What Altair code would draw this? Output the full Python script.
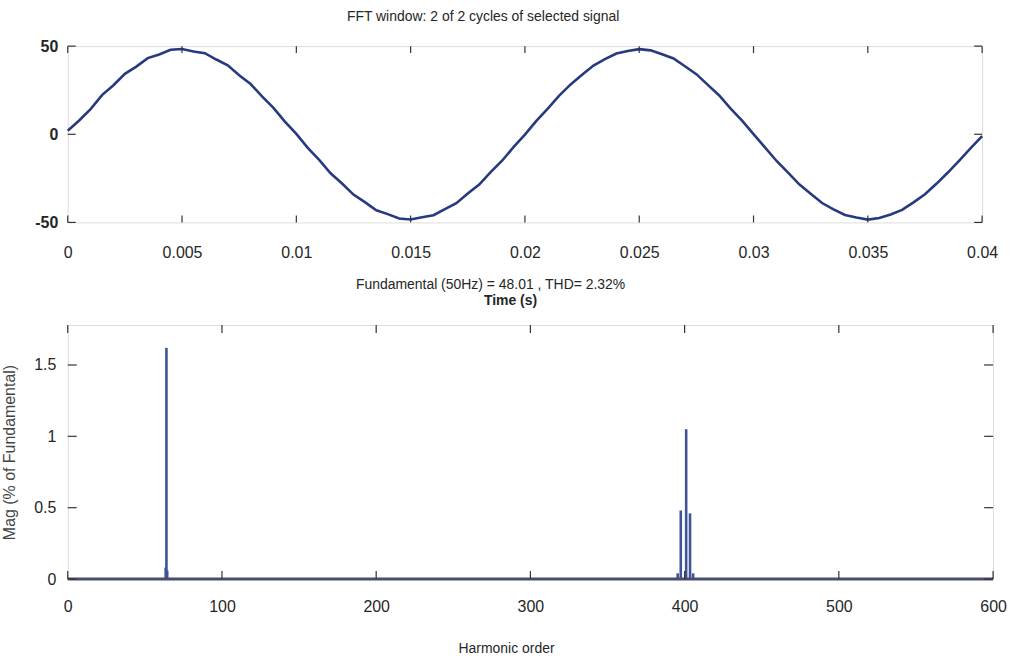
import altair as alt
import pandas as pd

# ---------------- data ----------------
time_s = [round(i * 0.0005, 4) for i in range(81)]
signal = [
    2.0, 7.8, 14.3, 22.2, 27.8, 34.3, 38.4, 43.2, 45.3, 47.9,
    48.4, 47.0, 46.0, 42.4, 39.1, 33.5, 28.5, 21.5, 15.0, 7.2,
    0.2, -7.7, -14.5, -22.1, -27.9, -34.2, -38.5, -43.1, -45.3, -47.8,
    -48.3, -47.1, -45.9, -42.5, -39.1, -33.6, -28.5, -21.5, -15.0, -7.3,
    -0.2, 7.6, 14.6, 21.9, 28.3, 33.7, 39.0, 42.6, 45.8, 47.2,
    48.3, 47.6, 45.4, 43.0, 38.6, 34.1, 28.0, 22.0, 14.6, 7.7,
    0.1, -7.4, -15.0, -21.6, -28.4, -33.7, -39.0, -42.6, -45.8, -47.2,
    -48.4, -47.5, -45.5, -42.9, -38.6, -34.0, -28.1, -21.7, -14.9, -7.8,
    -1.0,
]

harmonic = [63.5, 64, 64.5, 395.5, 397.5, 401, 403.5, 405.5]
magnitude = [0.08, 1.62, 0.06, 0.04, 0.48, 1.05, 0.46, 0.04]

time_ticks = [0, 0.005, 0.01, 0.015, 0.02, 0.025, 0.03, 0.035, 0.04]
signal_ticks = [-50, 0, 50]
harm_ticks = [0, 100, 200, 300, 400, 500, 600]
mag_ticks = [0, 0.5, 1, 1.5]

FONT = "Liberation Sans, Arial"
TXT = "#262626"
LINE = "#263a80"
SPIKE = "#3d5596"
LBL = "'' + datum.value"

W1, H1 = 918, 177
W2, H2 = 929, 255

sig_df = pd.DataFrame({"t": time_s, "v": signal})
harm_df = pd.DataFrame({"h": harmonic, "m": magnitude})

# ---------------- top panel ----------------
xs1 = alt.Scale(domain=[0, 0.04], nice=False, zero=False)
ys1 = alt.Scale(domain=[-50, 50], nice=False)

line = alt.Chart(sig_df).mark_line(color=LINE, strokeWidth=2.6).encode(
    x=alt.X("t:Q", scale=xs1,
            axis=alt.Axis(values=time_ticks, labelExpr=LBL, title="Time (s)", ticks=False,
                          domain=False, grid=False, labelPadding=22, titlePadding=33,
                          labelFontSize=16, titleFontSize=14, labelColor=TXT, titleColor=TXT,
                          labelFont=FONT, titleFont=FONT, titleFontWeight="bold",
                          titleX=444, labelFlush=False)),
    y=alt.Y("v:Q", scale=ys1,
            axis=alt.Axis(values=signal_ticks, labelExpr=LBL, title=None, ticks=False,
                          domain=False, grid=False, labelPadding=10, labelFontSize=16,
                          labelColor=TXT, labelFont=FONT, labelFontWeight="bold")),
)

tdf1x = pd.DataFrame({"t": time_ticks})
xt_top = alt.Chart(tdf1x).mark_rule(color="#333", strokeWidth=1.2).encode(
    x=alt.X("t:Q", scale=xs1), y=alt.value(0), y2=alt.value(7))
xt_bot = alt.Chart(tdf1x).mark_rule(color="#333", strokeWidth=1.2).encode(
    x=alt.X("t:Q", scale=xs1), y=alt.value(H1), y2=alt.value(H1 - 7))
tdf1y = pd.DataFrame({"v": signal_ticks})
yt_l = alt.Chart(tdf1y).mark_rule(color="#333", strokeWidth=1.2).encode(
    y=alt.Y("v:Q", scale=ys1), x=alt.value(0), x2=alt.value(8))
yt_r = alt.Chart(tdf1y).mark_rule(color="#333", strokeWidth=1.2).encode(
    y=alt.Y("v:Q", scale=ys1), x=alt.value(W1), x2=alt.value(W1 - 8))

top = alt.layer(line, xt_top, xt_bot, yt_l, yt_r).properties(
    width=W1, height=H1,
    title=alt.TitleParams("FFT window: 2 of 2 cycles of selected signal", font=FONT,
                          fontSize=14, fontWeight="normal", color=TXT, anchor="middle",
                          dx=-42, offset=14),
)

# ---------------- bottom panel ----------------
xs2 = alt.Scale(domain=[0, 600], nice=False)
ys2 = alt.Scale(domain=[0, 1.78], nice=False)

spikes = alt.Chart(harm_df).mark_rule(color=SPIKE, strokeWidth=2.6).encode(
    x=alt.X("h:Q", scale=xs2,
            axis=alt.Axis(values=harm_ticks, labelExpr=LBL, title="Harmonic order", ticks=False,
                          domain=False, grid=False, labelPadding=20, titlePadding=27,
                          labelFontSize=16, titleFontSize=14, labelColor=TXT, titleColor=TXT,
                          labelFont=FONT, titleFont=FONT, titleFontWeight="normal",
                          titleX=440, labelFlush=False)),
    y=alt.Y("m:Q", scale=ys2,
            axis=alt.Axis(values=mag_ticks, labelExpr=LBL, title="Mag (% of Fundamental)",
                          ticks=False, domain=False, grid=False, labelPadding=12,
                          titlePadding=16, labelFontSize=16, labelColor=TXT, labelFont=FONT,
                          titleFontSize=16, titleColor="#444", titleFont=FONT,
                          titleFontWeight="normal")),
    y2=alt.datum(0),
)
base = alt.Chart(pd.DataFrame({"a": [0], "b": [600]})).mark_rule(
    color="#4a4d6e", strokeWidth=3).encode(
    x=alt.X("a:Q", scale=xs2), x2="b:Q", y=alt.datum(0))

tdf2x = pd.DataFrame({"h": harm_ticks})
xt2_top = alt.Chart(tdf2x).mark_rule(color="#333", strokeWidth=1.2).encode(
    x=alt.X("h:Q", scale=xs2), y=alt.value(0), y2=alt.value(8))
xt2_bot = alt.Chart(tdf2x).mark_rule(color="#333", strokeWidth=1.2).encode(
    x=alt.X("h:Q", scale=xs2), y=alt.value(H2), y2=alt.value(H2 - 8))
tdf2y = pd.DataFrame({"m": mag_ticks})
yt2_l = alt.Chart(tdf2y).mark_rule(color="#333", strokeWidth=1.2).encode(
    y=alt.Y("m:Q", scale=ys2), x=alt.value(0), x2=alt.value(9))
yt2_r = alt.Chart(tdf2y).mark_rule(color="#333", strokeWidth=1.2).encode(
    y=alt.Y("m:Q", scale=ys2), x=alt.value(W2), x2=alt.value(W2 - 9))

bottom = alt.layer(spikes, base, xt2_top, xt2_bot, yt2_l, yt2_r).properties(
    width=W2, height=H2,
    title=alt.TitleParams("Fundamental (50Hz) = 48.01 , THD= 2.32%", font=FONT,
                          fontSize=14, fontWeight="normal", color=TXT, anchor="middle",
                          dx=-40, offset=33),
)

chart = alt.vconcat(top, bottom, spacing=103, bounds="flush").properties(
    padding={"left": 1, "top": 8, "right": 5, "bottom": 5},
).configure_view(stroke="#333", strokeWidth=1.6).configure(background="white")

chart.save("out.html", embed_options={"renderer": "svg", "actions": False})
